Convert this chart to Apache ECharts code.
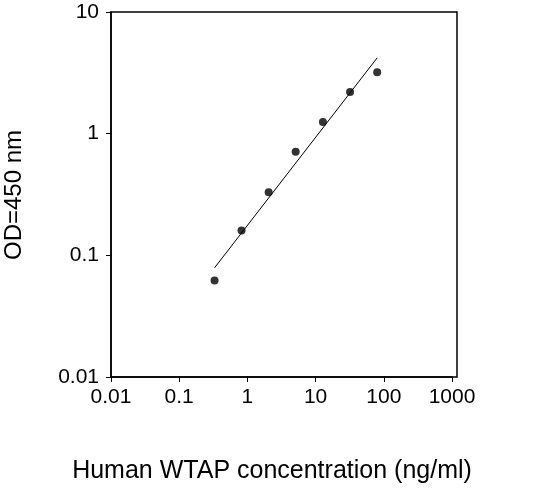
<!DOCTYPE html><html><head><meta charset="utf-8"><script src="https://cdn.jsdelivr.net/npm/echarts@6/dist/echarts.min.js"></script></head><body style="margin:0;background:#fff"><div id="c" style="width:543px;height:494px"></div><script>
const conc=[0.33,0.82,2.05,5.1,12.8,32,80];
const od=[0.062,0.16,0.33,0.71,1.25,2.2,3.2];
const fitX=[0.33,80];
const fitY=[0.079,4.2];
const ch=echarts.init(document.getElementById('c'));
ch.setOption({animation:false,
grid:{left:111,right:91,top:12,bottom:117,containLabel:false,outerBoundsMode:'none'},
xAxis:{type:'log',min:0.01,max:1000,logBase:10,
axisLine:{lineStyle:{color:'#000',width:1.5}},axisTick:{length:5,lineStyle:{color:'#000'}},minorTick:{show:false},splitLine:{show:false},
axisLabel:{fontSize:21,color:'#000',fontFamily:'Liberation Sans',margin:10,formatter:v=>String(+v.toPrecision(3))}},
yAxis:{type:'log',min:0.01,max:10,logBase:10,
axisLine:{lineStyle:{color:'#000',width:1.5}},axisTick:{length:5,lineStyle:{color:'#000'}},splitLine:{show:false},
axisLabel:{fontSize:21,color:'#000',fontFamily:'Liberation Sans',margin:12,formatter:v=>String(+v.toPrecision(3))}},
series:[
{type:'line',data:fitX.map((x,i)=>[x,fitY[i]]),showSymbol:false,lineStyle:{color:'#000',width:1}},
{type:'scatter',data:conc.map((x,i)=>[x,od[i]]),symbolSize:8,itemStyle:{color:'#000'}}
],
graphic:[
{type:'rect',shape:{x:111,y:12,width:346,height:365},style:{fill:'none',stroke:'#000',lineWidth:1.5},silent:true},
{type:'text',x:272,y:471,style:{text:'Human WTAP concentration (ng/ml)',fontSize:25,fill:'#000',fontFamily:'Liberation Sans',align:'center',verticalAlign:'middle'}},
{type:'text',x:14,y:195,rotation:Math.PI/2,style:{text:'OD=450 nm',fontSize:24,fill:'#000',fontFamily:'Liberation Sans',align:'center',verticalAlign:'middle'}}
]
});
</script></body></html>
